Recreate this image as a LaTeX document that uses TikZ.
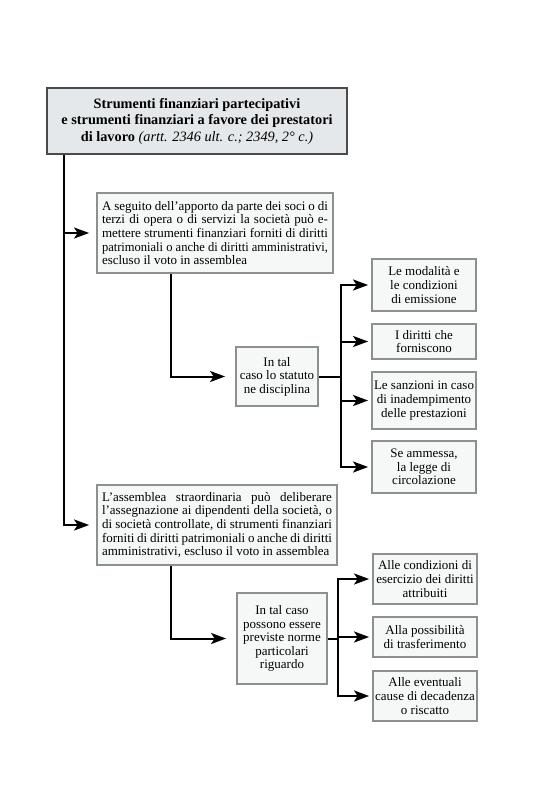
\documentclass[tikz,border=0pt]{standalone}
\usepackage{fontspec}
\usepackage{graphicx}
\setmainfont{Liberation Serif}
\usetikzlibrary{arrows.meta}
\definecolor{titlefill}{HTML}{E4E8EA}
\definecolor{boxfill}{HTML}{F6F8F8}
\definecolor{boxline}{HTML}{8C9090}
\definecolor{titleline}{HTML}{4A4A4A}
\newcommand\fitline[1]{\resizebox{\linewidth}{\height}{#1}}
\tikzset{
  titlebox/.style={draw=titleline, line width=1.6pt, fill=titlefill, align=center, inner sep=0pt,
    minimum width=300pt, minimum height=66pt, font=\fontsize{14.3}{16.5}\selectfont\bfseries},
  textbox/.style={draw=boxline, line width=1.8pt, fill=boxfill, inner sep=0pt,
    font=\fontsize{13}{13.6}\selectfont},
  arr/.style={line width=2pt, -{Stealth[length=15pt,width=11pt,inset=3.5pt]}, shorten >=7pt},
  busarr/.style={arr, shorten >=3pt},
  conn/.style={line width=2pt}
}
\begin{document}
\begin{tikzpicture}[x=1pt,y=-1pt]
\useasboundingbox (0,0) rectangle (559,788);
\node[titlebox] (title) at (197,121) {Strumenti finanziari partecipativi\\ e strumenti finanziari a favore dei prestatori\\ di lavoro {\mdseries\itshape (artt. 2346 ult. c.; 2349, 2° c.)}};
\node[textbox, minimum width=236pt, minimum height=80pt, text width=226pt, align=justify] (b1) at (215,233)
 {A seguito dell'apporto da parte dei soci o di\linebreak terzi di opera o di servizi la società può e-\linebreak mettere strumenti finanziari forniti di diritti\linebreak \fitline{patrimoniali o anche di diritti amministrativi,}\linebreak escluso il voto in assemblea};
\node[textbox, minimum width=82pt, minimum height=59pt, align=center] (stat) at (277,376.5)
 {In tal\\ caso lo statuto\\ ne disciplina};
\node[textbox, minimum width=104pt, minimum height=52pt, align=center] (a) at (424,285)
 {Le modalità e\\ le condizioni\\ di emissione};
\node[textbox, minimum width=104pt, minimum height=35pt, align=center] (b) at (424,341.5)
 {I diritti che\\ forniscono};
\node[textbox, minimum width=104pt, minimum height=57pt, align=center] (c) at (424,400.5)
 {Le sanzioni in caso\\ di inadempimento\\ delle prestazioni};
\node[textbox, minimum width=104pt, minimum height=52pt, align=center] (d) at (424,467)
 {Se ammessa,\\ la legge di\\ circolazione};
\node[textbox, minimum width=240pt, minimum height=80pt, text width=230pt, align=justify] (b2) at (217,525)
 {L'assemblea straordinaria può deliberare\linebreak l'assegnazione ai dipendenti della società, o\linebreak di società controllate, di strumenti finanziari\linebreak forniti di diritti patrimoniali o anche di diritti\linebreak amministrativi, escluso il voto in assemblea};
\node[textbox, minimum width=90pt, minimum height=91pt, align=center] (poss) at (282,638.5)
 {In tal caso\\ possono essere\\ previste norme\\ particolari\\ riguardo};
\node[textbox, minimum width=104pt, minimum height=50pt, align=center] (e) at (425,579)
 {Alle condizioni di\\ esercizio dei diritti\\ attribuiti};
\node[textbox, minimum width=104pt, minimum height=40pt, align=center] (f) at (425,637)
 {Alla possibilità\\ di trasferimento};
\node[textbox, minimum width=104pt, minimum height=50pt, align=center] (g) at (425,696)
 {Alle eventuali\\ cause di decadenza\\ o riscatto};
% connectors
\coordinate (t0) at ([xshift=18pt]title.south west);
\draw[arr] (t0) |- (b1.west);
\draw[arr] (t0) |- (b2.west);
\coordinate (s0) at ([xshift=75pt]b1.south west);
\draw[arr, shorten >=10pt] (s0) |- (stat.west);
\coordinate (bus1) at ([xshift=22pt]stat.east);
\draw[conn] (stat.east) -- (bus1);
\draw[busarr] (bus1) |- (a.west);
\draw[busarr] (bus1) |- (b.west);
\draw[busarr] (bus1) |- (c.west);
\draw[busarr] (bus1) |- (d.west);
\coordinate (s1) at ([xshift=75pt]b2.south west);
\draw[arr, shorten >=10pt] (s1) |- (poss.west);
\coordinate (bus2) at ([xshift=10pt]poss.east);
\draw[conn] (poss.east) -- (bus2);
\draw[busarr] (bus2) |- (e.west);
\draw[busarr] (bus2) |- (f.west);
\draw[busarr] (bus2) |- (g.west);
\end{tikzpicture}
\end{document}
